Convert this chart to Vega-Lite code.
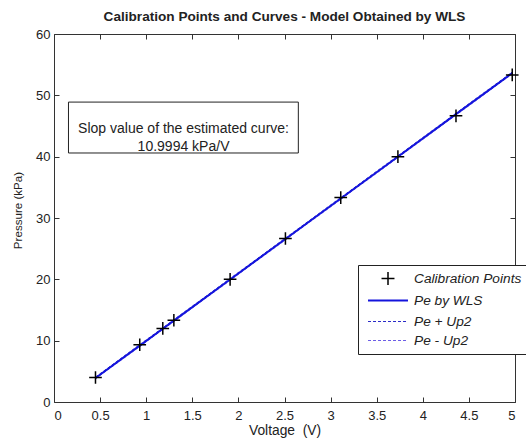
{
  "$schema": "https://vega.github.io/schema/vega-lite/v6.json",
  "width": 461,
  "height": 368,
  "autosize": {"type": "none"},
  "padding": {"left": 54, "top": 34, "right": 11, "bottom": 40},
  "background": "white",
  "title": {"text": "Calibration Points and Curves - Model Obtained by WLS", "font": "Liberation Sans", "fontSize": 13.6, "fontWeight": "bold", "color": "#222", "offset": 4, "anchor": "middle"},
  "config": {
    "font": "Liberation Sans",
    "view": {"stroke": "#333", "strokeWidth": 1},
    "axis": {"domain": false, "grid": false, "tickSize": -5, "tickColor": "#333", "tickWidth": 1, "labelFont": "Liberation Sans", "labelFontSize": 13, "labelColor": "#222", "titleFont": "Liberation Sans", "titleFontSize": 13.8, "titleFontWeight": "normal", "titleColor": "#222"}
  },
  "data": {"values": [
    {"series": "Calibration Points", "V": 0.45, "P": 4.00},
    {"series": "Calibration Points", "V": 0.93, "P": 9.33},
    {"series": "Calibration Points", "V": 1.18, "P": 12.00},
    {"series": "Calibration Points", "V": 1.30, "P": 13.33},
    {"series": "Calibration Points", "V": 1.91, "P": 20.00},
    {"series": "Calibration Points", "V": 2.51, "P": 26.66},
    {"series": "Calibration Points", "V": 3.11, "P": 33.33},
    {"series": "Calibration Points", "V": 3.73, "P": 40.00},
    {"series": "Calibration Points", "V": 4.36, "P": 46.66},
    {"series": "Calibration Points", "V": 4.97, "P": 53.33},
    {"series": "Pe by WLS", "V": 0.45, "P": 3.92},
    {"series": "Pe by WLS", "V": 0.93, "P": 9.20},
    {"series": "Pe by WLS", "V": 1.18, "P": 11.95},
    {"series": "Pe by WLS", "V": 1.30, "P": 13.27},
    {"series": "Pe by WLS", "V": 1.91, "P": 19.98},
    {"series": "Pe by WLS", "V": 2.51, "P": 26.58},
    {"series": "Pe by WLS", "V": 3.11, "P": 33.18},
    {"series": "Pe by WLS", "V": 3.73, "P": 39.99},
    {"series": "Pe by WLS", "V": 4.36, "P": 46.93},
    {"series": "Pe by WLS", "V": 4.97, "P": 53.64},
    {"series": "Pe + Up2", "V": 0.45, "P": 4.07},
    {"series": "Pe + Up2", "V": 2.51, "P": 26.73},
    {"series": "Pe + Up2", "V": 4.97, "P": 53.79},
    {"series": "Pe - Up2", "V": 0.45, "P": 3.77},
    {"series": "Pe - Up2", "V": 2.51, "P": 26.43},
    {"series": "Pe - Up2", "V": 4.97, "P": 53.49}
  ]},
  "layer": [
    {
      "transform": [{"filter": "datum.series === 'Pe + Up2' || datum.series === 'Pe - Up2'"}],
      "mark": {"type": "line", "strokeWidth": 1, "strokeDash": [3, 2]},
      "encoding": {
        "x": {"field": "V", "type": "quantitative", "scale": {"domain": [0, 5], "nice": false, "zero": false},
              "axis": {"orient": "bottom", "values": [0, 0.5, 1, 1.5, 2, 2.5, 3, 3.5, 4, 4.5, 5], "format": "~g", "labelPadding": 12, "title": "Voltage\u00a0 (V)", "titlePadding": 1}},
        "y": {"field": "P", "type": "quantitative", "scale": {"domain": [0, 60], "nice": false, "zero": false},
              "axis": {"orient": "left", "values": [0, 10, 20, 30, 40, 50, 60], "labelPadding": 9, "title": "Pressure (kPa)", "titleFontSize": 11.6, "titleX": -36, "titleY": 176, "titleAngle": -90, "titleBaseline": "middle", "titleAlign": "center"}},
        "color": {"field": "series", "type": "nominal",
                  "scale": {"domain": ["Calibration Points", "Pe by WLS", "Pe + Up2", "Pe - Up2"], "range": ["#000000", "#1414dc", "#2a2ac8", "#6b5ce6"]},
                  "legend": {
                    "orient": "none", "legendX": 304, "legendY": 231, "title": null,
                    "padding": 4, "strokeColor": "#222", "fillColor": "white",
                    "symbolType": "stroke", "symbolSize": 324, "symbolStrokeWidth": 1, "rowPadding": 0,
                    "labelFont": "Liberation Sans", "labelFontSize": 13.7, "labelFontStyle": "italic", "labelColor": "#222", "labelOffset": 33, "labelLimit": 300,
                    "encode": {"symbols": {"update": {
                      "x": {"value": 26},
                      "shape": {"signal": "(datum.value === 'Calibration Points' ? 'M0,-0.78M0,0.78M-0.72,0L0.72,0M0,-0.72L0,0.72' : 'M-2.22,-0.78M-2.22,0.78M-2.22,0L2.22,0')"},
                      "strokeWidth": {"signal": "(datum.value === 'Calibration Points' ? 1.5 : (datum.value === 'Pe by WLS' ? 2 : 1))"},
                      "strokeDash": {"signal": "(datum.value === 'Calibration Points' || datum.value === 'Pe by WLS' ? [1, 0] : [3, 2])"},
                      "stroke": {"signal": "(datum.value === 'Calibration Points' ? '#000000' : datum.value === 'Pe by WLS' ? '#1414dc' : datum.value === 'Pe + Up2' ? '#2a2ac8' : '#6b5ce6')"},
                      "fill": {"value": "transparent"},
                      "opacity": {"value": 1}
                    }}}
                  }}
      }
    },
    {
      "transform": [{"filter": "datum.series === 'Pe by WLS'"}],
      "mark": {"type": "line", "strokeWidth": 2},
      "encoding": {
        "x": {"field": "V", "type": "quantitative", "axis": {"orient": "top", "values": [0, 0.5, 1, 1.5, 2, 2.5, 3, 3.5, 4, 4.5, 5], "labels": false, "title": null}},
        "y": {"field": "P", "type": "quantitative", "axis": {"orient": "right", "values": [0, 10, 20, 30, 40, 50, 60], "labels": false, "title": null}},
        "color": {"field": "series", "type": "nominal"}
      }
    },
    {
      "transform": [{"filter": "datum.series === 'Calibration Points'"}],
      "mark": {"type": "point", "shape": "M-1,0L1,0M0,-1L0,1", "filled": false, "size": 160, "strokeWidth": 1.5, "opacity": 1},
      "encoding": {
        "x": {"field": "V", "type": "quantitative", "axis": null},
        "y": {"field": "P", "type": "quantitative", "axis": null},
        "color": {"field": "series", "type": "nominal"}
      }
    },
    {
      "data": {"values": [{"note": "slope"}]},
      "mark": {"type": "rect", "fill": "white", "stroke": "#222", "strokeWidth": 1},
      "encoding": {
        "x": {"datum": 0.157, "type": "quantitative", "axis": null},
        "x2": {"datum": 2.65},
        "y": {"datum": 48.9, "type": "quantitative", "axis": null},
        "y2": {"datum": 40.6}
      }
    },
    {
      "data": {"values": [{"note": "slope"}]},
      "mark": {"type": "text", "text": ["Slop value of the estimated curve:", "10.9994 kPa/V"], "font": "Liberation Sans", "fontSize": 14, "color": "#222", "align": "center", "baseline": "middle", "lineHeight": 18},
      "encoding": {
        "x": {"datum": 1.405, "type": "quantitative", "axis": null},
        "y": {"datum": 44.5, "type": "quantitative", "axis": null}
      }
    }
  ],
  "resolve": {"axis": {"x": "independent", "y": "independent"}}
}
